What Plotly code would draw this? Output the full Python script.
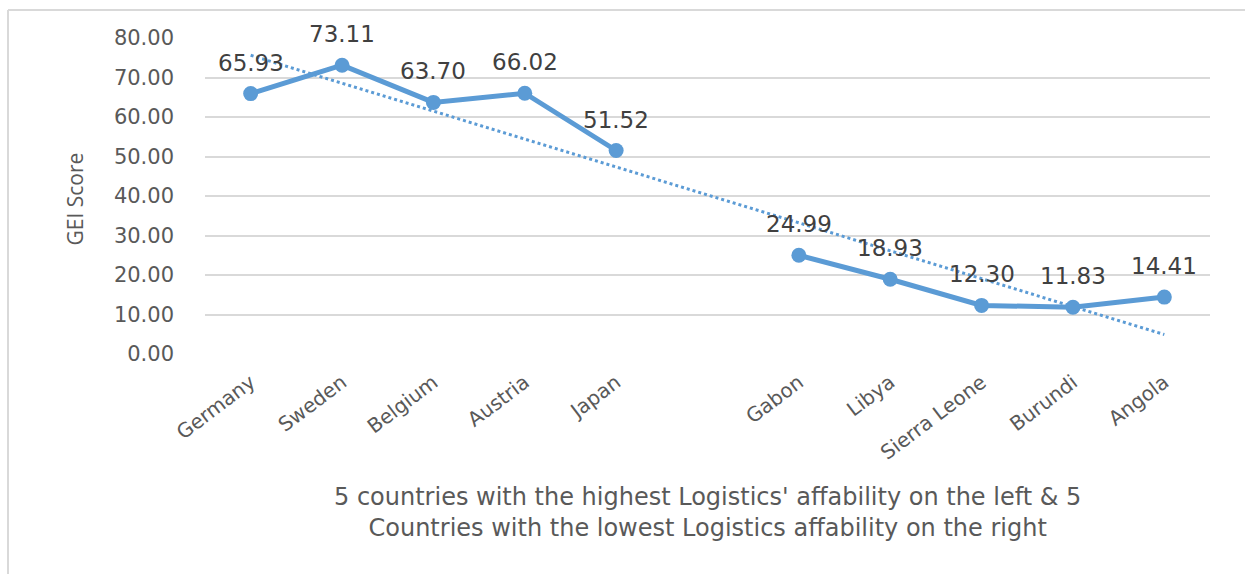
import numpy as np
import plotly.graph_objects as go

categories = ["Germany", "Sweden", "Belgium", "Austria", "Japan", "",
              "Gabon", "Libya", "Sierra Leone", "Burundi", "Angola"]
gei_scores = [65.93, 73.11, 63.70, 66.02, 51.52, None,
              24.99, 18.93, 12.30, 11.83, 14.41]
y_ticks = [0, 10, 20, 30, 40, 50, 60, 70, 80]

x_idx = list(range(len(categories)))
blue = "#5B9BD5"
grey = "#595959"

# linear trendline (least squares over available points)
xv = np.array([x for x, y in zip(x_idx, gei_scores) if y is not None], dtype=float)
yv = np.array([y for y in gei_scores if y is not None], dtype=float)
slope, intercept = np.polyfit(xv, yv, 1)
trend_x = [x_idx[0], x_idx[-1]]
trend_y = [intercept + slope * x for x in trend_x]

fig = go.Figure()
fig.add_trace(go.Scatter(
    x=trend_x, y=trend_y, mode="lines",
    line=dict(color=blue, width=3, dash="dot"),
    hoverinfo="skip", showlegend=False))
fig.add_trace(go.Scatter(
    x=x_idx, y=gei_scores, mode="lines+markers",
    line=dict(color=blue, width=5),
    marker=dict(color=blue, size=15),
    connectgaps=False, showlegend=False))

for x, y in zip(x_idx, gei_scores):
    if y is None:
        continue
    fig.add_annotation(x=x, y=y, text=f"{y:.2f}", showarrow=False,
                       yshift=31, font=dict(family="DejaVu Sans", size=23, color="#404040"))

# axis titles
fig.add_annotation(xref="paper", yref="paper", x=0.5, y=-0.503, showarrow=False,
                   yanchor="middle",
                   text="5 countries with the highest Logistics' affability on the left &amp; 5<br>"
                        "Countries with the lowest Logistics affability on the right",
                   font=dict(family="DejaVu Sans", size=24, color=grey))
fig.add_annotation(xref="paper", yref="paper", x=-0.129, y=0.49, showarrow=False,
                   textangle=-90, xanchor="center", yanchor="middle",
                   text="GEI Score", font=dict(family="Open Sans", size=21, color=grey))

# chart border (top and left visible)
fig.add_shape(type="line", xref="paper", yref="paper", x0=-0.196, x1=1.1,
              y0=1.0886, y1=1.0886, line=dict(color="#d9d9d9", width=2))
fig.add_shape(type="line", xref="paper", yref="paper", x0=-0.196, x1=-0.196,
              y0=1.0886, y1=-0.7, line=dict(color="#d9d9d9", width=2))

fig.update_layout(
    width=1245, height=574,
    margin=dict(l=205, r=35, t=38, b=220),
    paper_bgcolor="white", plot_bgcolor="white",
    font=dict(family="DejaVu Sans", color=grey),
    xaxis=dict(range=[-0.5, len(categories) - 0.5], tickvals=x_idx, ticktext=categories,
               tickangle=-37, showgrid=False, zeroline=False, showline=False,
               ticks="", ticklabelstandoff=12,
               tickfont=dict(family="DejaVu Sans", size=20, color=grey)),
    yaxis=dict(range=[0, 80], tickvals=y_ticks, tickformat=".2f",
               showgrid=True, gridcolor="#d9d9d9", gridwidth=1.5, zeroline=False, showline=False,
               ticks="", ticklabelstandoff=30,
               tickfont=dict(family="DejaVu Sans", size=21, color=grey)),
)
fig.write_html("out.html")
